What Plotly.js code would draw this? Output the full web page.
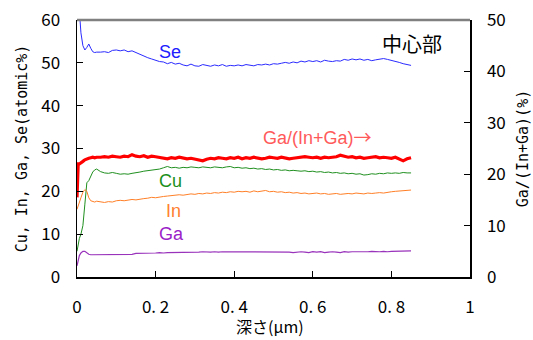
<!DOCTYPE html>
<html><head><meta charset="utf-8">
<script src="https://cdn.plot.ly/plotly-3.0.1.min.js"></script>
<style>html,body{margin:0;padding:0;background:#fff;}</style>
</head><body><div id="chart" style="width:533px;height:340px;"></div>
<script>
const depth = [0,0.003,0.006,0.01,0.015,0.02,0.025,0.03,0.035,0.04,0.045,0.05,
0.06,0.07,0.08,0.09,0.10,0.11,0.12,0.13,0.14,0.15,
0.16,0.17,0.18,0.19,0.20,0.21,0.22,0.23,0.24,0.25,
0.26,0.27,0.28,0.29,0.30,0.31,0.32,0.33,0.34,0.35,
0.36,0.37,0.38,0.39,0.40,0.41,0.42,0.43,0.44,0.45,
0.46,0.47,0.48,0.49,0.50,0.51,0.52,0.53,0.54,0.55,
0.56,0.57,0.58,0.59,0.60,0.61,0.62,0.63,0.64,0.65,
0.66,0.67,0.68,0.69,0.70,0.71,0.72,0.73,0.74,0.75,
0.76,0.77,0.78,0.79,0.80,0.81,0.82,0.83,0.84,0.85];

const se = [70,66,61,57,54,53,53.6,54.4,53.4,52.6,52.4,52.5,
52.5,52.6,52.4,52.9,53.0,52.8,53.0,52.6,52.8,52.4,
52.0,51.5,51.2,50.9,50.6,50.3,50.2,49.8,50.1,49.7,
49.9,49.5,49.3,49.7,49.3,49.2,49.6,49.4,49.2,49.5,
49.3,49.6,49.2,49.4,49.3,49.5,49.3,49.6,49.4,49.3,
49.6,49.5,49.7,49.5,49.8,49.7,49.9,50.1,49.9,50.2,
50.0,50.4,50.2,50.5,50.3,50.5,50.2,50.6,50.4,50.3,
50.5,50.4,50.8,50.6,50.9,50.7,50.9,50.6,50.8,50.5,
50.7,50.9,51.0,50.8,50.6,50.3,50.1,49.8,49.6,49.4];

const cu = [6,7.5,9,10,12,17,22,22.5,23.5,24.5,25,25.2,
24.6,24.3,24.2,24.4,24.2,24.0,24.1,24.0,24.2,24.3,
24.5,24.7,24.8,25.0,25.1,25.2,25.5,25.8,25.5,25.6,
25.4,25.6,25.5,25.7,25.6,25.5,25.7,25.6,25.5,25.7,
25.6,25.5,25.7,25.8,25.5,25.6,25.4,25.5,25.3,25.4,
25.2,25.3,25.1,25.2,25.0,25.1,24.9,25.0,24.8,24.9,
24.8,24.7,24.8,24.6,24.7,24.5,24.6,24.4,24.5,24.3,
24.4,24.2,24.3,24.1,24.2,24.0,24.1,23.8,23.9,24.1,
24.0,24.2,24.1,24.3,24.2,24.3,24.2,24.4,24.3,24.3];

const inn = [15.8,16.5,17.5,18.5,19.8,20.4,20.0,18.5,17.8,17.6,17.5,17.7,
17.5,17.4,17.6,17.5,17.8,17.9,17.8,18.0,18.1,18.0,
18.2,18.3,18.4,18.6,18.5,18.7,18.8,18.9,19.0,19.1,
19.2,19.1,19.3,19.4,19.3,19.5,19.4,19.6,19.5,19.7,
19.6,19.8,19.7,19.9,19.8,20.0,19.9,20.0,19.8,20.1,
19.9,20.0,20.2,19.9,20.0,19.8,19.9,19.7,19.8,19.6,
19.7,19.5,19.6,19.4,19.5,19.6,19.4,19.5,19.3,19.4,
19.5,19.3,19.4,19.5,19.4,19.6,19.5,19.4,19.6,19.5,
19.6,19.7,19.6,19.8,19.9,20.0,20.1,20.2,20.2,20.3];

const ga = [2.6,4.0,5.0,5.6,6.0,6.0,5.6,5.3,5.2,5.2,5.3,5.2,
5.2,5.3,5.2,5.2,5.3,5.2,5.3,5.2,5.3,5.5,
5.5,5.6,5.5,5.6,5.6,5.7,5.6,5.7,5.7,5.8,
5.7,5.8,5.7,5.8,5.8,5.8,5.9,5.8,5.8,5.9,
5.8,5.9,5.9,5.8,5.9,5.9,5.8,5.9,5.9,5.8,
5.9,5.9,5.8,5.9,5.9,5.8,5.9,5.9,5.8,5.7,
5.8,5.9,5.8,5.7,5.9,5.8,5.9,5.7,5.8,5.9,
5.8,5.7,5.9,5.8,5.9,5.9,5.8,5.9,5.9,6.0,
5.9,5.9,6.0,5.9,6.0,6.0,6.0,6.0,6.1,6.1];

const gaRatio = [15.5,22.0,22.0,22.3,22.5,22.8,23.0,23.1,23.2,23.3,23.2,23.3,
23.3,23.4,23.3,23.5,23.4,23.3,23.5,23.4,23.8,23.5,
23.4,23.6,23.3,23.5,23.4,23.3,23.1,23.0,23.2,23.1,
23.3,23.2,23.0,23.1,22.9,22.8,22.6,22.9,23.1,23.0,
23.2,23.1,23.0,23.2,23.1,23.3,23.0,23.2,23.1,23.3,
23.2,23.0,23.1,23.3,23.2,23.1,23.3,23.2,23.0,23.1,
23.2,23.3,23.4,23.3,23.2,23.3,23.1,23.3,23.2,23.3,
23.4,23.7,23.5,23.3,23.4,23.2,23.3,23.1,23.2,23.3,
23.4,23.2,23.3,23.2,23.1,23.3,22.9,22.6,23.0,23.2];

const xTickVals = [0,0.2,0.4,0.6,0.8,1];
const xTickText = ["0","0. 2","0. 4","0. 6","0. 8","1"];

const tickFont = {family:"Noto Sans CJK JP, DejaVu Sans", size:17, color:"#000"};
const titleFont = {family:"DejaVu Sans Mono, Noto Sans CJK JP", size:15, color:"#000"};
const labFont = (c)=>({family:"Liberation Sans, Arial, sans-serif", size:18, color:c});

const traces = [
 {x:depth, y:se, type:"scatter", mode:"lines", line:{color:"#2a2aff", width:1}, hoverinfo:"skip"},
 {x:depth, y:cu, type:"scatter", mode:"lines", line:{color:"#1f8f1f", width:1}, hoverinfo:"skip"},
 {x:depth, y:inn, type:"scatter", mode:"lines", line:{color:"#ff7f27", width:1}, hoverinfo:"skip"},
 {x:depth, y:ga, type:"scatter", mode:"lines", line:{color:"#9933bb", width:1.2}, hoverinfo:"skip"},
 {x:depth, y:gaRatio, type:"scatter", mode:"lines", yaxis:"y2", line:{color:"#ff0000", width:3.2}, hoverinfo:"skip"}
];

const layout = {
 width:533, height:340,
 margin:{l:77, r:63, t:20, b:63},
 paper_bgcolor:"#fff", plot_bgcolor:"#fff",
 showlegend:false,
 xaxis:{range:[0,1], tickvals:xTickVals, ticktext:xTickText, ticks:"inside", ticklen:6, tickcolor:"#000",
   showline:true, linecolor:"#000", linewidth:1.5, showgrid:false, zeroline:false, tickfont:tickFont,
   ticklabelstandoff:14},
 yaxis:{range:[0,60], dtick:10, ticks:"inside", ticklen:6, tickcolor:"#000",
   showline:true, linecolor:"#000", linewidth:1.5, showgrid:false, zeroline:false, tickfont:tickFont,
   ticklabelstandoff:12,
   title:{text:"Cu, In, Ga, Se(atomic%)", font:titleFont, standoff:10}},
 yaxis2:{range:[0,50], dtick:10, overlaying:"y", side:"right", ticks:"inside", ticklen:6, tickcolor:"#000",
   showline:true, linecolor:"#000", linewidth:1.5, showgrid:false, zeroline:false, tickfont:tickFont,
   ticklabelstandoff:12,
   title:{text:"Ga/(In+Ga)(%)", font:titleFont, standoff:12}},
 shapes:[{type:"line", xref:"paper", yref:"paper", x0:0, x1:1, y0:1, y1:1, line:{color:"#808080", width:2.5}}],
 annotations:[
  {text:"深さ(μm)", x:0.49, y:-0.19, xref:"paper", yref:"paper", yanchor:"middle", showarrow:false, font:{family:"Noto Sans CJK JP", size:16, color:"#000"}},
  {text:"Se", x:0.237, y:52.6, xref:"x", yref:"y", showarrow:false, font:labFont("#2020ff")},
  {text:"Cu", x:0.237, y:22.5, xref:"x", yref:"y", showarrow:false, font:labFont("#1a8f1a")},
  {text:"In", x:0.245, y:15.5, xref:"x", yref:"y", showarrow:false, font:labFont("#ff8030")},
  {text:"Ga", x:0.24, y:10.1, xref:"x", yref:"y", showarrow:false, font:labFont("#9a22c8")},
  {text:"Ga/(In+Ga)<span style=\"font-family:Noto Sans CJK JP\">→</span>", x:0.612, y:33.0, xref:"x", yref:"y", showarrow:false, font:labFont("#ff5a5a")},
  {text:"中心部", x:0.852, y:54.6, xref:"x", yref:"y", showarrow:false, font:{family:"Noto Sans CJK JP", size:20, color:"#000"}}
 ]
};

Plotly.newPlot("chart", traces, layout, {staticPlot:true, displayModeBar:false});
</script>
</body></html>
